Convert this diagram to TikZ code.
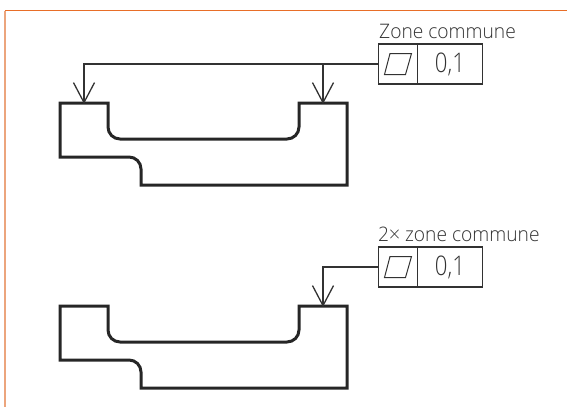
\documentclass[tikz,border=0pt]{standalone}
\usepackage{fontspec}
\setmainfont{Open Sans Light}
\newfontfamily\capfont[FakeStretch=0.96]{Open Sans Light}
\newfontfamily\valfont[FakeStretch=0.82]{Open Sans Light}
\usetikzlibrary{arrows.meta}
\definecolor{inkgray}{RGB}{50,50,50}
\definecolor{textgray}{RGB}{50,50,50}
\definecolor{rulecolor}{RGB}{232,110,40}
\definecolor{sidecolor}{RGB}{236,165,125}
\tikzset{
  profile/.style={line width=3pt, draw=black!85, line join=miter},
  leader/.style={line width=1.3pt, draw=inkgray},
  pointer/.style={leader, -{Straight Barb[length=20pt,width=21pt,line width=1.3pt]}, shorten >=-1pt},
  cell/.style={draw=inkgray, line width=1.3pt, minimum height=40pt, inner sep=0pt, outer sep=0pt, text=textgray},
  symcell/.style={cell, minimum width=39.5pt},
  valcell/.style={cell, minimum width=65pt, font=\valfont\fontsize{27}{27}\selectfont},
  caption/.style={anchor=base west, inner sep=0pt, text=textgray, font=\capfont\fontsize{20}{20}\selectfont},
  flatness/.style={draw=inkgray, line width=1pt}
}
\begin{document}
\begin{tikzpicture}[x=1pt, y=-1pt]
    \useasboundingbox (0, 0) rectangle (567, 407);
    \draw[rulecolor, line width=1pt] (5, 10.5) -- (567, 10.5);
    \draw[sidecolor, line width=1.4pt] (5, 10.5) -- (5, 407);
    % both parts have the same outline
    \foreach \dy in {0, 203} {
      \draw[profile, yshift=-\dy pt] (60, 103) -- (108, 103) -- (108, 127)
        arc[start angle=180, end angle=90, radius=12] -- (287, 139)
        arc[start angle=90, end angle=0, radius=12] -- (299, 103)
        -- (347, 103) -- (347, 185) -- (141, 185) -- (141, 169)
        arc[start angle=0, end angle=-90, radius=12] -- (60, 157) -- cycle;
    }
    % upper frame
    \node[symcell] (sym1) at (398, 64) {};
    \node[valcell] (val1) at (450, 64) {0,1};
    \node[caption] (cap1) at (379, 38) {Zone commune};
    \draw[flatness] (390, 53.5) -- (411.5, 53.5) -- (405.5, 74.5) -- (384.5, 74.5) -- cycle;
    \coordinate (tip1) at (84, 103);
    \coordinate (tip2) at (323, 103);
    \draw[pointer] (sym1.west) -| (tip1);
    \draw[pointer] (sym1.west -| tip2) -- (tip2);
    % lower frame
    \node[symcell] (sym2) at (398, 267) {};
    \node[valcell] (val2) at (450, 267) {0,1};
    \node[caption] (cap2) at (378, 241) {2× zone commune};
    \draw[flatness] (390, 256.5) -- (411.5, 256.5) -- (405.5, 277.5) -- (384.5, 277.5) -- cycle;
    \coordinate (tip3) at (323, 306);
    \draw[pointer] (sym2.west) -| (tip3);
\end{tikzpicture}
\end{document}
